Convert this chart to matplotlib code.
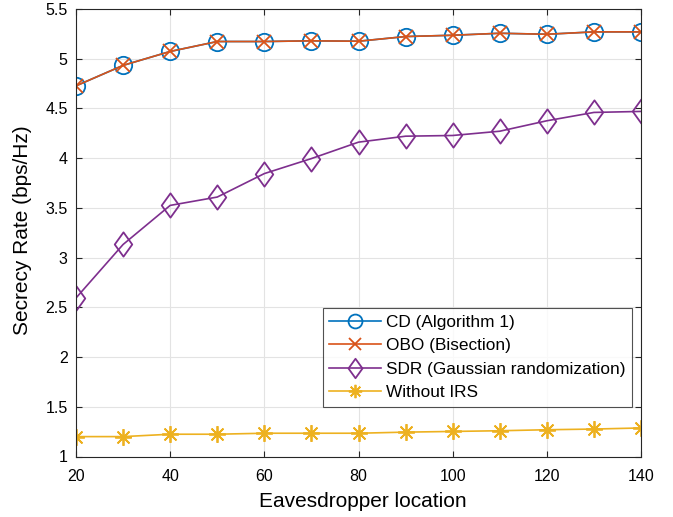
import matplotlib
matplotlib.use("Agg")
import matplotlib.pyplot as plt
from matplotlib.path import Path

plt.rcParams['font.family'] = ['Liberation Sans', 'DejaVu Sans']

locations = [20, 30, 40, 50, 60, 70, 80, 90, 100, 110, 120, 130, 140]
cd_rate = [4.727, 4.933, 5.073, 5.173, 5.173, 5.18, 5.176, 5.223, 5.236, 5.256, 5.246, 5.27, 5.27]
obo_rate = [4.727, 4.933, 5.073, 5.173, 5.173, 5.18, 5.176, 5.223, 5.236, 5.256, 5.246, 5.27, 5.27]
sdr_rate = [2.594, 3.132, 3.525, 3.609, 3.845, 3.996, 4.161, 4.221, 4.228, 4.271, 4.376, 4.46, 4.47]
no_irs_rate = [1.2, 1.2, 1.224, 1.224, 1.234, 1.234, 1.234, 1.245, 1.252, 1.259, 1.269, 1.276, 1.287]

labels = ['CD (Algorithm 1)', 'OBO (Bisection)', 'SDR (Gaussian randomization)', 'Without IRS']
xticks = [20, 40, 60, 80, 100, 120, 140]
yticks = [1, 1.5, 2, 2.5, 3, 3.5, 4, 4.5, 5, 5.5]
ytick_labels = ['1', '1.5', '2', '2.5', '3', '3.5', '4', '4.5', '5', '5.5']

c_blue = (0, 0.447, 0.741)
c_red = (0.85, 0.325, 0.098)
c_purple = (0.494, 0.184, 0.556)
c_yellow = (0.929, 0.694, 0.125)

diamond = Path([(0, 1), (0.72, 0), (0, -1), (-0.72, 0), (0, 1)],
               [Path.MOVETO, Path.LINETO, Path.LINETO, Path.LINETO, Path.CLOSEPOLY])

fig = plt.figure(figsize=(6.73, 5.17), dpi=100)
ax = fig.add_axes([76/673, 1 - 456.5/517, (641-76)/673, (456.5-9)/517])

ax.plot(locations, cd_rate, color=c_blue, lw=1.2, marker='o', ms=12.5,
        mfc='none', mew=1.3, label=labels[0])
ax.plot(locations, obo_rate, color=c_red, lw=1.2, marker='x', ms=10,
        mew=1.3, label=labels[1])
ax.plot(locations, sdr_rate, color=c_purple, lw=1.2, marker=diamond, ms=17.5,
        mfc='none', mew=1.3, label=labels[2])
ax.plot(locations, no_irs_rate, color=c_yellow, lw=1.2, marker=(8, 2, 0), ms=12,
        mew=1.3, label=labels[3])

ax.set_xlim(20, 140)
ax.set_ylim(1, 5.5)
ax.set_xticks(xticks)
ax.set_yticks(yticks)
ax.set_yticklabels(ytick_labels)
ax.grid(True, color='#e3e3e3', lw=0.8)
ax.set_axisbelow(True)
for s in ax.spines.values():
    s.set_color('#262626')
    s.set_linewidth(0.8)
ax.tick_params(direction='in', length=4, labelsize=11.5, colors='#262626',
               top=True, right=True, labelcolor='black')
ax.tick_params(axis='x', pad=9)
ax.tick_params(axis='y', pad=6)
ax.set_xlabel('Eavesdropper location', fontsize=15, va='center')
ax.set_ylabel('Secrecy Rate (bps/Hz)', fontsize=15, va='center')
ax.xaxis.set_label_coords(0.5075, -0.1)
ax.yaxis.set_label_coords(-0.094, 0.505)

leg = ax.legend(loc='lower right', bbox_to_anchor=(0.984, 0.1117), fontsize=12.4,
                frameon=True, fancybox=False, edgecolor='#262626',
                borderpad=0.38, labelspacing=0.48, handlelength=3.0,
                handletextpad=0.3, borderaxespad=0.0)
leg.get_frame().set_linewidth(0.8)
for h in leg.legend_handles:
    h.set_markersize(h.get_markersize() * 0.8)

fig.savefig('out.png', dpi=100)
